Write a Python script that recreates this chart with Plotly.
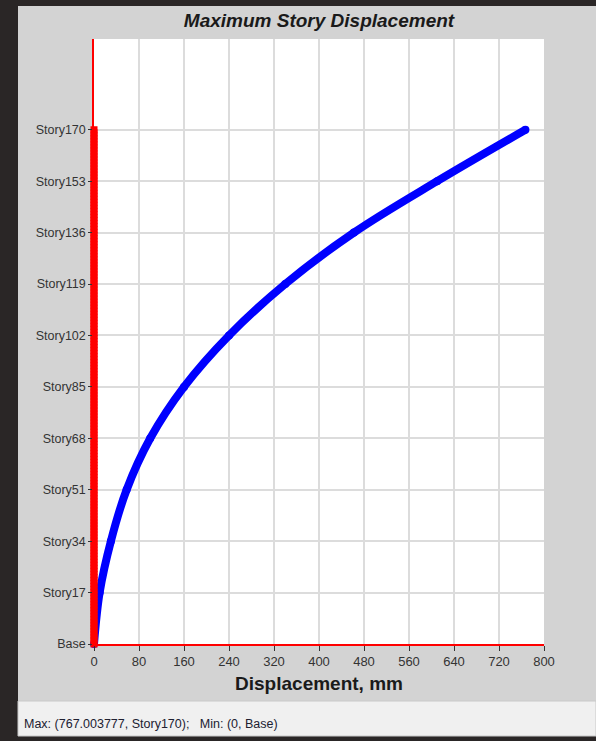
import plotly.graph_objects as go

# ---- data ----
tick_stories = [0, 17, 34, 51, 68, 85, 102, 119, 136, 153, 170]
tick_labels = ["Base", "Story17", "Story34", "Story51", "Story68", "Story85",
               "Story102", "Story119", "Story136", "Story153", "Story170"]
curve_stories = [0, 17, 34, 51, 68, 85, 102, 119, 136, 153, 170]
curve_disp = [0, 10, 30, 58, 100, 160, 240, 340, 462, 610, 767]
all_stories = list(range(0, 171))
base_disp = [0] * len(all_stories)
x_ticks = [0, 80, 160, 240, 320, 400, 480, 560, 640, 720, 800]

W, H = 596, 741
L, R, T, B = 94, 544, 39, 644


def px(x):
    return (x - L) / (R - L)


def py(y):
    return (B - y) / (B - T)


fig = go.Figure()
fig.add_trace(go.Scatter(
    x=curve_disp, y=curve_stories, mode="lines+markers",
    line=dict(color="#0000ff", width=8, shape="spline", smoothing=1.0),
    marker=dict(color="#0000ff", size=8),
    cliponaxis=False, hoverinfo="skip", showlegend=False))
fig.add_trace(go.Scatter(
    x=base_disp, y=all_stories, mode="markers",
    marker=dict(color="#ff0000", size=7, symbol="square", line=dict(width=0)),
    cliponaxis=False, hoverinfo="skip", showlegend=False))

shapes = [
    # dark window surroundings
    dict(type="rect", x0=px(0), x1=px(18), y0=py(0), y1=py(H), fillcolor="#2a2626", line_width=0),
    dict(type="rect", x0=px(0), x1=px(W), y0=py(0), y1=py(6), fillcolor="#2a2626", line_width=0),
    dict(type="rect", x0=px(0), x1=px(W), y0=py(736), y1=py(H), fillcolor="#2a2626", line_width=0),
    # status bar
    dict(type="rect", x0=px(18), x1=px(W), y0=py(701), y1=py(736), fillcolor="#f0f0f0",
         line=dict(color="#c8c8c8", width=1)),
]
for s in shapes:
    s.update(xref="paper", yref="paper", layer="above")

fig.update_layout(
    width=W, height=H,
    margin=dict(l=L, r=W - R, t=T, b=H - B, pad=0),
    paper_bgcolor="#d3d3d3", plot_bgcolor="#ffffff",
    font=dict(family="Liberation Sans, Arial, sans-serif", size=12, color="#333333"),
    title=dict(text="<b><i>Maximum Story Displacement</i></b>", x=0.5, xref="paper",
               y=1 - 20 / H, yref="container", yanchor="middle", xanchor="center",
               font=dict(size=19, color="#1a1a1a")),
    xaxis=dict(range=[0, 800], tickvals=x_ticks, ticktext=[str(v) for v in x_ticks],
               showgrid=True, gridcolor="#dcdcdc", gridwidth=1.5,
               showline=True, linecolor="#ff0000", linewidth=1.5,
               ticks="outside", ticklen=5, tickcolor="#333333", zeroline=False,
               tickfont=dict(size=13, color="#333333"),
               title=dict(text="<b>Displacement, mm</b>", standoff=8,
                          font=dict(size=19, color="#1a1a1a"))),
    yaxis=dict(range=[0, 200], tickvals=tick_stories, ticktext=tick_labels,
               showgrid=True, gridcolor="#dcdcdc", gridwidth=1.5,
               showline=True, linecolor="#ff0000", linewidth=1.5,
               ticks="outside", ticklen=4, tickcolor="#333333", zeroline=False,
               tickfont=dict(size=12.5, color="#333333")),
    shapes=shapes,
    annotations=[dict(text="Max: (767.003777, Story170);   Min: (0, Base)",
                      xref="paper", yref="paper", x=px(22), y=py(724),
                      xanchor="left", yanchor="middle", showarrow=False,
                      font=dict(size=12.5, color="#202030"))],
)

fig.write_html(
    "out.html",
    config={"displayModeBar": False},
    post_script="document.body.style.margin='0';document.body.style.overflow='hidden';",
)
